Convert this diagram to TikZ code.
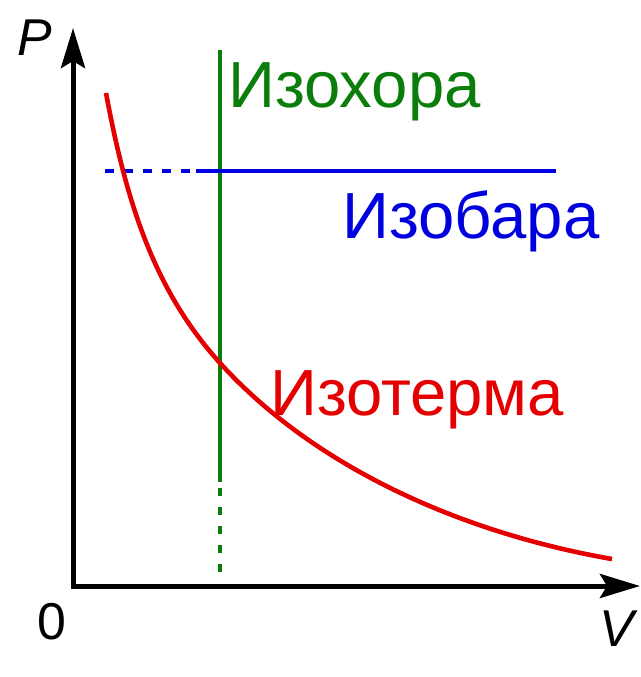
\documentclass[tikz,border=0pt]{standalone}
\usepackage{fontspec}
\setmainfont{Liberation Sans}
\usetikzlibrary{arrows.meta}
\definecolor{cred}{RGB}{228,0,0}
\definecolor{cgreen}{RGB}{10,125,10}
\definecolor{cblue}{RGB}{0,0,222}
\begin{document}
\begin{tikzpicture}[x=1bp,y=-1bp,
  axis/.style={line width=5bp, line join=miter, -{Stealth[length=40bp,width=24bp,inset=7bp]}},
  curveline/.style={line width=4.6bp, cred},
  isochline/.style={line width=4.8bp, cgreen},
  isobline/.style={line width=4.8bp, cblue},
  lbl/.style={inner sep=0pt, anchor=base west, font=\fontsize{65.5}{72}\selectfont},
  axlbl/.style={inner sep=0pt, font=\fontsize{52}{60}\selectfont}]
\useasboundingbox (0,0) rectangle (641,677);
% axes
\coordinate (O) at (73,586);
\coordinate (Ptip) at (73,28);
\coordinate (Vtip) at (640,586);
\draw[axis] (O) -- (Ptip);
\draw[axis] (O) -- (Vtip);
\fill (70.5,583.5) rectangle (75.5,588.5);
% isochore
\coordinate (chTop) at (220,50);
\coordinate (chMid) at (220,482);
\coordinate (chBot) at (220,572);
\draw[isochline] (chTop) -- (chMid);
\draw[isochline, dash pattern=on 8bp off 11bp] (chBot) -- (chMid);
% isobar
\coordinate (baL) at (105,171);
\coordinate (baM) at (196,171);
\coordinate (baR) at (556,171);
\draw[isobline, dash pattern=on 9bp off 10bp] (baL) -- (baM);
\draw[isobline] (baM) -- (baR);
% isotherm
\coordinate (thA) at (106,93);
\coordinate (thB) at (220,363);
\coordinate (thC) at (612,559);
\draw[curveline] (thA) .. controls (126,200) and (153,289) .. (thB)
  .. controls (318,471) and (468,534) .. (thC);
% labels
\node[lbl, cgreen] (tch) at (228,108) {Изохора};
\node[lbl, cblue] (tba) at (342,238) {Изобара};
\node[lbl, cred] (tth) at (270,415) {Изотерма};
\node[axlbl] (tP) at (35,37.5) {\itshape P};
\node[axlbl] (t0) at (52,622) {0};
\node[axlbl] (tV) at (617,629) {\itshape V};
\end{tikzpicture}
\end{document}
